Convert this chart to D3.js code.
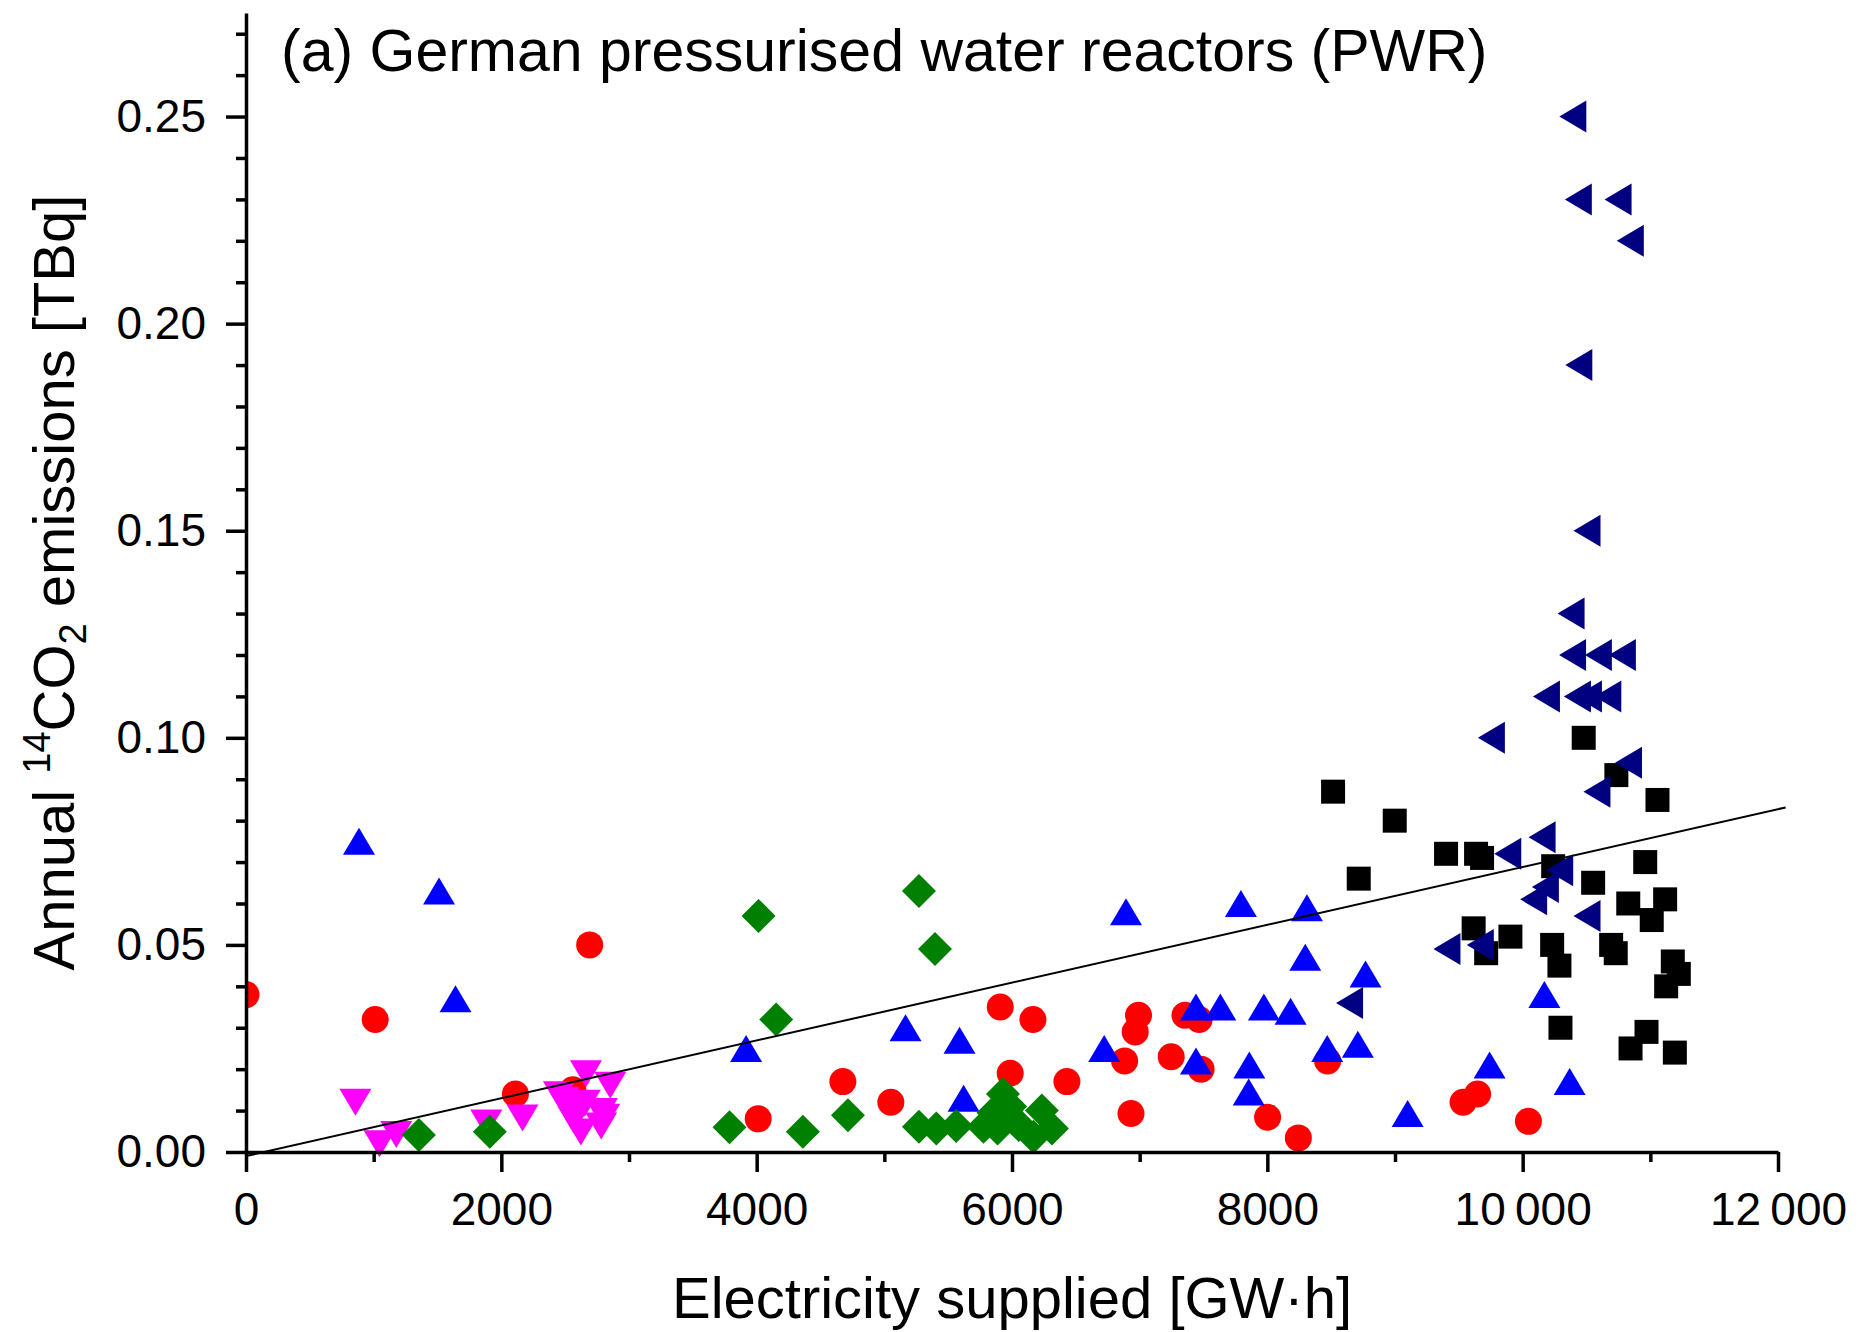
<!DOCTYPE html>
<html>
<head>
<meta charset="utf-8">
<script src="https://cdn.jsdelivr.net/npm/d3@7"></script>
<style>
  body { margin: 0; background: #fff; }
  svg { display: block; }
  text { font-family: "Liberation Sans", Arial, sans-serif; }
</style>
</head>
<body>
<svg id="chart"></svg>
<script>
// black squares
const sqX = [8515, 8998, 8716, 9400, 9635, 9682, 9616, 9714, 9904, 10478, 10239, 10552, 10231, 10288, 10296, 10734, 11056, 10960, 10827, 11116, 11011, 10693, 10729, 11176, 11223, 11124, 10970, 10845, 11192];
const sqY = [0.087, 0.080, 0.066, 0.072, 0.072, 0.071, 0.054, 0.048, 0.052, 0.100, 0.069, 0.065, 0.050, 0.045, 0.030, 0.091, 0.085, 0.070, 0.060, 0.061, 0.056, 0.050, 0.048, 0.046, 0.043, 0.040, 0.029, 0.025, 0.024];
// red circles
const circX = [0, 1012, 2110, 2560, 2692, 4012, 4675, 5051, 5908, 6164, 5986, 6430, 6991, 6965, 6882, 6932, 7247, 7355, 7466, 7481, 8002, 8243, 8472, 9533, 9647, 10045];
const circY = [0.038, 0.032, 0.014, 0.015, 0.050, 0.008, 0.017, 0.012, 0.035, 0.032, 0.019, 0.017, 0.033, 0.029, 0.022, 0.0093, 0.023, 0.033, 0.032, 0.020, 0.0084, 0.0034, 0.022, 0.012, 0.014, 0.0074];
// blue up triangles
const upX = [885, 1512, 1641, 3917, 5166, 5589, 5621, 6893, 6722, 7441, 7632, 7441, 7793, 8310, 8297, 7973, 8182, 7859, 7854, 8769, 8469, 8709, 9099, 9741, 10170, 10368];
const upY = [0.075, 0.063, 0.037, 0.025, 0.030, 0.027, 0.013, 0.058, 0.025, 0.035, 0.035, 0.022, 0.060, 0.059, 0.047, 0.035, 0.034, 0.021, 0.0145, 0.043, 0.025, 0.026, 0.0093, 0.021, 0.038, 0.017];
// magenta down triangles
const dnX = [857, 1046, 1177, 1882, 2166, 2451, 2490, 2527, 2566, 2623, 2654, 2663, 2788, 2806, 2782, 2853];
const dnY = [0.012, 0.002, 0.0042, 0.0070, 0.0082, 0.0138, 0.0125, 0.0101, 0.0077, 0.0048, 0.0118, 0.0189, 0.0098, 0.0084, 0.0063, 0.0161];
// green diamonds
const dmX = [1354, 1910, 3787, 4015, 4153, 4362, 4715, 5271, 5397, 5271, 5407, 5563, 5777, 5855, 5929, 5887, 5986, 6024, 6053, 6168, 6234, 6313];
const dmY = [0.0041, 0.0049, 0.006, 0.057, 0.032, 0.0049, 0.0089, 0.063, 0.049, 0.0061, 0.0057, 0.0063, 0.0061, 0.0095, 0.014, 0.0057, 0.011, 0.0075, 0.0065, 0.0037, 0.010, 0.0057];
// navy left triangles
const ltX = [10393, 10436, 10747, 10843, 10440, 10504, 10379, 10391, 10593, 10781, 10186, 10429, 10515, 10667, 9755, 10829, 10582, 10152, 9883, 10290, 10178, 10086, 10504, 9407, 9668, 8644];
const ltY = [0.250, 0.230, 0.230, 0.220, 0.190, 0.150, 0.130, 0.120, 0.120, 0.120, 0.110, 0.110, 0.110, 0.110, 0.100, 0.094, 0.087, 0.076, 0.072, 0.068, 0.064, 0.061, 0.057, 0.049, 0.050, 0.036];
// linear fit, ends
const fitX = [0, 12060];
const fitY = [-0.0010, 0.0832];

const xMajor = [0, 2000, 4000, 6000, 8000, 10000, 12000];
const xMinor = [1000, 3000, 5000, 7000, 9000, 11000];
const yMajor = [0, 0.05, 0.10, 0.15, 0.20, 0.25];
const yMinor = [0.01, 0.02, 0.03, 0.04, 0.06, 0.07, 0.08, 0.09, 0.11, 0.12, 0.13, 0.14, 0.16, 0.17, 0.18, 0.19, 0.21, 0.22, 0.23, 0.24, 0.26, 0.27];

const W = 1862, H = 1332;
const svg = d3.select('#chart').attr('width', W).attr('height', H);

const x = d3.scaleLinear().domain([0, 12000]).range([246, 1778]);
const y = d3.scaleLinear().domain([0, 0.275]).range([1152, 13]);

// only the left side gets clipped (point at x = 0 is cut in half)
svg.append('clipPath').attr('id', 'clip')
  .append('rect').attr('x', x(0)).attr('y', 0).attr('width', W - x(0)).attr('height', H);

const plot = svg.append('g').attr('clip-path', 'url(#clip)');

// marker shapes, centred on their bounding box
const shapes = {
  square: 'M-12,-12H12V12H-12Z',
  circle: d3.symbol(d3.symbolCircle, Math.PI * 13.5 * 13.5)(),
  up: 'M0,-13.5L16,13.5L-16,13.5Z',
  down: 'M0,13.5L16,-13.5L-16,-13.5Z',
  diamond: 'M0,-17L17,0L0,17L-17,0Z',
  left: 'M-13.5,0L13.5,-16L13.5,16Z'
};

const series = [
  { xs: sqX, ys: sqY, shape: 'square', color: '#000000' },
  { xs: circX, ys: circY, shape: 'circle', color: '#ff0000' },
  { xs: upX, ys: upY, shape: 'up', color: '#0000ff' },
  { xs: dnX, ys: dnY, shape: 'down', color: '#ff00ff' },
  { xs: dmX, ys: dmY, shape: 'diamond', color: '#008000' },
  { xs: ltX, ys: ltY, shape: 'left', color: '#000080' }
];

series.forEach(s => {
  plot.append('g')
    .selectAll('path')
    .data(s.xs.map((v, i) => [v, s.ys[i]]))
    .join('path')
      .attr('d', shapes[s.shape])
      .attr('transform', d => `translate(${x(d[0])},${y(d[1])})`)
      .attr('fill', s.color);
});

// fit line
plot.append('path')
  .datum(fitX.map((v, i) => [v, fitY[i]]))
  .attr('d', d3.line().x(d => x(d[0])).y(d => y(d[1])))
  .attr('fill', 'none')
  .attr('stroke', '#000')
  .attr('stroke-width', 2);

// axes
const fmtX = v => v >= 10000 ? d3.format('d')(v).replace(/^(\d\d)/, '$1\u2009') : d3.format('d')(v);

const gx = svg.append('g').attr('transform', `translate(0,${y(0)})`);
gx.call(d3.axisBottom(x).tickValues(xMajor).tickFormat(fmtX).tickSize(20).tickSizeOuter(0).tickPadding(20));
gx.append('g').call(d3.axisBottom(x).tickValues(xMinor).tickFormat('').tickSize(10).tickSizeOuter(0))
  .select('.domain').remove();

const gy = svg.append('g').attr('transform', `translate(${x(0)},0)`);
gy.call(d3.axisLeft(y).tickValues(yMajor).tickFormat(d3.format('.2f')).tickSize(20).tickSizeOuter(0).tickPadding(20));
gy.append('g').call(d3.axisLeft(y).tickValues(yMinor).tickFormat('').tickSize(10).tickSizeOuter(0))
  .select('.domain').remove();

svg.selectAll('.domain, .tick line').attr('stroke', '#000').attr('stroke-width', 3.5);
svg.selectAll('.tick text').attr('font-size', 46).attr('fill', '#000')
  .style('font-family', '"Liberation Sans", Arial, sans-serif');

// title
svg.append('text')
  .attr('x', 281).attr('y', 71)
  .attr('font-size', 59)
  .text('(a) German pressurised water reactors (PWR)');

// x label
svg.append('text')
  .attr('x', (x(0) + x(12000)) / 2).attr('y', 1318)
  .attr('text-anchor', 'middle')
  .attr('font-size', 58)
  .text('Electricity supplied [GW\u00b7h]');

// y label
const yl = svg.append('text')
  .attr('transform', `translate(74,${(y(0) + y(0.275)) / 2}) rotate(-90)`)
  .attr('text-anchor', 'middle')
  .attr('font-size', 58);
yl.append('tspan').text('Annual ');
yl.append('tspan').attr('font-size', 38).attr('dy', -24).text('14');
yl.append('tspan').attr('dy', 24).text('CO');
yl.append('tspan').attr('font-size', 38).attr('dy', 12).text('2');
yl.append('tspan').attr('dy', -12).text(' emissions [TBq]');
</script>
</body>
</html>
